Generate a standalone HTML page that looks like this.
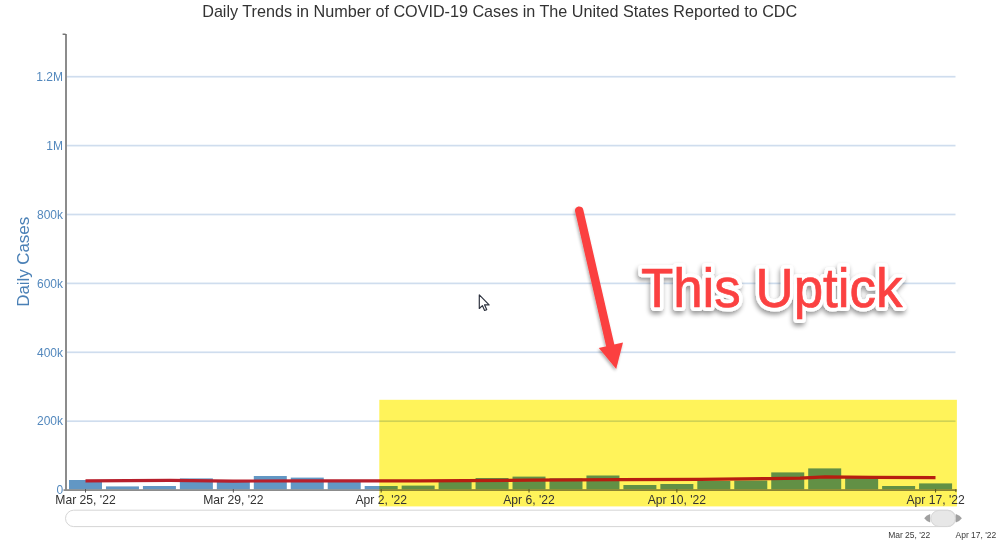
<!DOCTYPE html>
<html><head><meta charset="utf-8"><title>Daily Trends</title>
<style>
html,body{margin:0;padding:0;background:#fff;}
body{width:1000px;height:545px;overflow:hidden;position:relative;}
svg{position:absolute;left:0;top:0;display:block;}
text{font-family:"Liberation Sans",Arial,sans-serif;}
</style></head><body>
<svg width="1000" height="545" viewBox="0 0 1000 545">
<defs>
<filter id="sh" x="-20%" y="-20%" width="140%" height="150%">
<feGaussianBlur in="SourceAlpha" stdDeviation="2.4"/>
<feOffset dx="-1" dy="3" result="b"/>
<feComponentTransfer><feFuncA type="linear" slope="0.42"/></feComponentTransfer>
<feMerge><feMergeNode/><feMergeNode in="SourceGraphic"/></feMerge>
</filter>
<filter id="sh2" x="-50%" y="-20%" width="200%" height="140%">
<feGaussianBlur in="SourceAlpha" stdDeviation="1.8"/>
<feOffset dx="-1.5" dy="1.5" result="b"/>
<feComponentTransfer><feFuncA type="linear" slope="0.3"/></feComponentTransfer>
<feMerge><feMergeNode/><feMergeNode in="SourceGraphic"/></feMerge>
</filter>
</defs>
<rect width="1000" height="545" fill="#fff"/>
<text x="202.2" y="17.45" font-size="16.2" fill="#333" textLength="595" lengthAdjust="spacing">Daily Trends in Number of COVID-19 Cases in The United States Reported to CDC</text>
<rect x="67" y="420.35" width="888.5" height="1.7" fill="#cfddee"/>
<text x="63" y="425.40" font-size="12" fill="#5388bd" text-anchor="end">200k</text>
<rect x="67" y="351.45" width="888.5" height="1.7" fill="#cfddee"/>
<text x="63" y="356.50" font-size="12" fill="#5388bd" text-anchor="end">400k</text>
<rect x="67" y="282.55" width="888.5" height="1.7" fill="#cfddee"/>
<text x="63" y="287.60" font-size="12" fill="#5388bd" text-anchor="end">600k</text>
<rect x="67" y="213.65" width="888.5" height="1.7" fill="#cfddee"/>
<text x="63" y="218.70" font-size="12" fill="#5388bd" text-anchor="end">800k</text>
<rect x="67" y="144.75" width="888.5" height="1.7" fill="#cfddee"/>
<text x="63" y="149.80" font-size="12" fill="#5388bd" text-anchor="end">1M</text>
<rect x="67" y="75.85" width="888.5" height="1.7" fill="#cfddee"/>
<text x="63" y="80.90" font-size="12" fill="#5388bd" text-anchor="end">1.2M</text>
<text x="63.3" y="494.30" font-size="12" fill="#5388bd" text-anchor="end">0</text>
<text transform="translate(29.2,306.8) rotate(-90)" font-size="17" fill="#4a80b6" textLength="90" lengthAdjust="spacing">Daily Cases</text>
<rect x="69.00" y="480.0" width="33" height="9.6" fill="#6297c4"/>
<rect x="105.96" y="486.4" width="33" height="3.2" fill="#6297c4"/>
<rect x="142.92" y="486.0" width="33" height="3.6" fill="#6297c4"/>
<rect x="179.88" y="478.4" width="33" height="11.2" fill="#6297c4"/>
<rect x="216.84" y="480.0" width="33" height="9.6" fill="#6297c4"/>
<rect x="253.80" y="476.0" width="33" height="13.6" fill="#6297c4"/>
<rect x="290.76" y="477.6" width="33" height="12.0" fill="#6297c4"/>
<rect x="327.72" y="481.5" width="33" height="8.1" fill="#6297c4"/>
<rect x="364.68" y="486.0" width="33" height="3.6" fill="#6297c4"/>
<rect x="401.64" y="485.6" width="33" height="4.0" fill="#6297c4"/>
<rect x="438.60" y="481.5" width="33" height="8.1" fill="#6297c4"/>
<rect x="475.56" y="478.0" width="33" height="11.6" fill="#6297c4"/>
<rect x="512.52" y="476.6" width="33" height="13.0" fill="#6297c4"/>
<rect x="549.48" y="478.4" width="33" height="11.2" fill="#6297c4"/>
<rect x="586.44" y="475.5" width="33" height="14.1" fill="#6297c4"/>
<rect x="623.40" y="485.0" width="33" height="4.6" fill="#6297c4"/>
<rect x="660.36" y="484.0" width="33" height="5.6" fill="#6297c4"/>
<rect x="697.32" y="481.0" width="33" height="8.6" fill="#6297c4"/>
<rect x="734.28" y="480.5" width="33" height="9.1" fill="#6297c4"/>
<rect x="771.24" y="472.4" width="33" height="17.2" fill="#6297c4"/>
<rect x="808.20" y="468.4" width="33" height="21.2" fill="#6297c4"/>
<rect x="845.16" y="478.0" width="33" height="11.6" fill="#6297c4"/>
<rect x="882.12" y="486.0" width="33" height="3.6" fill="#6297c4"/>
<rect x="919.08" y="483.4" width="33" height="6.2" fill="#6297c4"/>
<rect x="65" y="34" width="2" height="457" fill="#8c8c8c"/>
<rect x="62.6" y="33.6" width="3" height="1.2" fill="#555"/>
<rect x="63.5" y="489.2" width="893" height="1.8" fill="#8c8c8c"/>
<rect x="85.00" y="489.1" width="1" height="3.4" fill="#555"/>
<rect x="232.84" y="489.1" width="1" height="3.4" fill="#555"/>
<rect x="380.68" y="489.1" width="1" height="3.4" fill="#555"/>
<rect x="528.52" y="489.1" width="1" height="3.4" fill="#555"/>
<rect x="676.36" y="489.1" width="1" height="3.4" fill="#555"/>
<rect x="935.08" y="489.1" width="1" height="3.4" fill="#555"/>
<rect x="955.4" y="489.1" width="1" height="3" fill="#555"/>
<polyline fill="none" stroke="#b71f2c" stroke-width="3.2" stroke-linejoin="round" points="85.5,480.8 170,480.4 233,481.1 300,480.8 420,480.8 530,480.2 620,479.7 700,479.4 770,478.6 800,478.1 825,476.9 872,477.4 935.5,477.6"/>
<rect x="379.3" y="399.8" width="577.6" height="106.6" fill="#fff35a" style="mix-blend-mode:multiply"/>
<text x="85.50" y="503.6" font-size="12.15" fill="#333" text-anchor="middle">Mar 25, &#39;22</text>
<text x="233.34" y="503.6" font-size="12.15" fill="#333" text-anchor="middle">Mar 29, &#39;22</text>
<text x="381.18" y="503.6" font-size="12.15" fill="#333" text-anchor="middle">Apr 2, &#39;22</text>
<text x="529.02" y="503.6" font-size="12.15" fill="#333" text-anchor="middle">Apr 6, &#39;22</text>
<text x="676.86" y="503.6" font-size="12.15" fill="#333" text-anchor="middle">Apr 10, &#39;22</text>
<text x="935.58" y="503.6" font-size="12.15" fill="#333" text-anchor="middle">Apr 17, &#39;22</text>
<rect x="65.5" y="510.2" width="890.4" height="16.4" rx="8.2" fill="#fff" stroke="#d6d6d6" stroke-width="1"/>
<rect x="930.9" y="510.4" width="24.5" height="16.1" rx="8.05" fill="#e7e7e7" stroke="#d6d6d6" stroke-width="1"/>
<path d="M930.2,514 Q926,515.6 924.2,518.3 Q926,521 930.2,522.6 Z" fill="#a0a0a0"/>
<path d="M955.8,514 Q960,515.6 961.9,518.3 Q960,521 955.8,522.6 Z" fill="#a0a0a0"/>
<text x="888.2" y="538" font-size="8.5" fill="#3a3a3a" textLength="42" lengthAdjust="spacing">Mar 25, &#39;22</text>
<text x="955.6" y="538" font-size="8.5" fill="#3a3a3a" textLength="40.6" lengthAdjust="spacing">Apr 17, &#39;22</text>
<g filter="url(#sh2)">
<line x1="579.2" y1="210.6" x2="610.6" y2="347" stroke="#fb4141" stroke-width="8.4" stroke-linecap="round"/>
<path d="M616.2,369 L598.8,348 L623,342.6 Z" fill="#fb4141"/>
</g>
<g filter="url(#sh)">
<text transform="translate(640.9,306.7) scale(0.948,1)" x="0" y="0" font-size="55.8" fill="#fff" stroke="#fff" stroke-width="8.2" stroke-linejoin="round">This Uptick</text>
</g>
<text transform="translate(640.9,306.7) scale(0.948,1)" x="0" y="0" font-size="55.8" fill="#fb4141" stroke="#fb4141" stroke-width="0.7">This Uptick</text>
<path transform="translate(479.3,294.9)" d="M0,0 L0,13.6 L3.1,10.7 L5.3,15.6 L7.4,14.7 L5.3,10 L9.8,10 Z" fill="#fff" stroke="#2f3440" stroke-width="1.2" stroke-linejoin="round"/>
</svg>
</body></html>
